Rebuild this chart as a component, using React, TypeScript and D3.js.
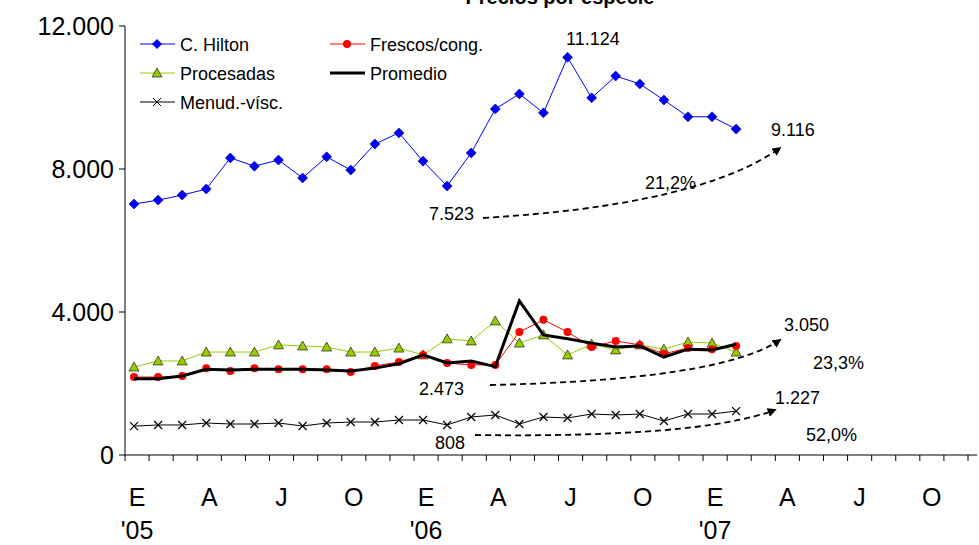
import * as d3 from 'd3';

const monthLabels = ['E', 'A', 'J', 'O', 'E', 'A', 'J', 'O', 'E', 'A', 'J', 'O'];
const yearLabels: [number, string][] = [[0, "'05"], [12, "'06"], [24, "'07"]];
const yTicks = [0, 4000, 8000, 12000];

const hilton = [7020, 7130, 7270, 7440, 8310, 8080, 8250, 7750, 8340, 7970, 8700, 9010, 8220, 7523, 8450, 9680, 10100, 9570, 11124, 9990, 10600, 10380, 9930, 9460, 9460, 9116];
const frescos = [2180, 2180, 2210, 2430, 2350, 2430, 2400, 2400, 2400, 2320, 2490, 2600, 2800, 2570, 2520, 2520, 3440, 3780, 3440, 3020, 3190, 3080, 2830, 2990, 2960, 3050];
const procesadas = [2460, 2630, 2630, 2880, 2880, 2880, 3080, 3050, 3020, 2880, 2880, 2990, 2800, 3250, 3190, 3750, 3130, 3360, 2800, 3100, 2940, 3080, 2960, 3160, 3130, 2880];
const promedio = [2130, 2130, 2210, 2400, 2380, 2400, 2400, 2400, 2380, 2350, 2430, 2550, 2800, 2573, 2630, 2473, 4310, 3360, 3250, 3130, 3020, 3050, 2740, 2960, 2940, 3100];
const menud = [808, 840, 840, 895, 867, 867, 895, 811, 895, 923, 923, 979, 979, 840, 1063, 1119, 867, 1063, 1035, 1147, 1119, 1147, 951, 1147, 1147, 1227];

const font = 'Liberation Sans, Arial, sans-serif';

export default function App() {
  const x = d3.scaleLinear().domain([0, 35]).range([134, 977]);
  const y = d3.scaleLinear().domain([0, 12000]).range([455, 26]);
  const line = d3.line<number>().x((_, i) => x(i)).y((d) => y(d));
  const idx = d3.range(hilton.length);

  const arrow = (x0: number, y0: number, x1: number, y1: number, cx: number, cy: number) => (
    <path d={`M${x0},${y0} Q${cx},${cy} ${x1},${y1}`} fill="none" stroke="#000" strokeWidth={1.8}
      strokeDasharray="6,4" markerEnd="url(#ah)" />
  );
  const T = (tx: number, ty: number, s: string, anchor = 'start') => (
    <text x={tx} y={ty} fontSize={18} textAnchor={anchor as any} fontFamily={font}>{s}</text>
  );

  return (
    <svg width={979} height={545} style={{ position: 'absolute', left: 0, top: 0 }}>
      <defs>
        <marker id="ah" viewBox="0 0 10 10" refX="8" refY="5" markerWidth="5" markerHeight="5" orient="auto">
          <path d="M0,0 L10,5 L0,10 z" fill="#000" />
        </marker>
      </defs>
      <rect width={979} height={545} fill="#fff" />
      <text x={560} y={4} fontSize={20} fontWeight="bold" textAnchor="middle" fontFamily={font}>Precios por especie</text>
      {/* axes */}
      <line x1={125} x2={125} y1={26} y2={455} stroke="#000" />
      <line x1={125} x2={977} y1={455} y2={455} stroke="#000" />
      {yTicks.map((t) => (
        <g key={t}>
          <line x1={119} x2={125} y1={y(t)} y2={y(t)} stroke="#000" />
          <text x={114} y={y(t) + 9} fontSize={25} textAnchor="end" fontFamily={font}>{d3.format(',')(t).replace(',', '.')}</text>
        </g>
      ))}
      {d3.range(36).map((i) => (
        <line key={i} x1={x(i) - 9} x2={x(i) - 9} y1={455} y2={461} stroke="#000" />
      ))}
      {monthLabels.map((m, k) => (
        <text key={k} x={x(k * 3) + 3} y={506} fontSize={25} textAnchor="middle" fontFamily={font}>{m}</text>
      ))}
      {yearLabels.map(([i, s]) => (
        <text key={s} x={x(i) + 3} y={539} fontSize={25} textAnchor="middle" fontFamily={font}>{s}</text>
      ))}
      {/* series */}
      <path d={line(menud)!} fill="none" stroke="#000" strokeWidth={1} />
      {menud.map((d, i) => (
        <path key={i} transform={`translate(${x(i)},${y(d)})`} d="M-4,-4L4,4M-4,4L4,-4" stroke="#000" strokeWidth={1.2} />
      ))}
      <path d={line(procesadas)!} fill="none" stroke="#99cc00" strokeWidth={1} />
      {procesadas.map((d, i) => (
        <path key={i} transform={`translate(${x(i)},${y(d)})`} d="M0,-5L5,4L-5,4z" fill="#99cc00" stroke="#000" strokeWidth={0.6} />
      ))}
      <path d={line(frescos)!} fill="none" stroke="#ff0000" strokeWidth={1} />
      {frescos.map((d, i) => (
        <circle key={i} cx={x(i)} cy={y(d)} r={4} fill="#ff0000" />
      ))}
      <path d={line(promedio)!} fill="none" stroke="#000" strokeWidth={3} />
      <path d={line(hilton)!} fill="none" stroke="#0000ff" strokeWidth={1} />
      {idx.map((i) => (
        <path key={i} transform={`translate(${x(i)},${y(hilton[i])})`} d="M0,-5L5,0L0,5L-5,0z" fill="#0000ff" stroke="#000080" strokeWidth={0.6} />
      ))}
      {/* legend */}
      <g fontFamily={font} fontSize={18}>
        <line x1={140} x2={175} y1={44} y2={44} stroke="#0000ff" />
        <path transform="translate(157,44)" d="M0,-5L5,0L0,5L-5,0z" fill="#0000ff" />
        <text x={180} y={51}>C. Hilton</text>
        <line x1={330} x2={365} y1={44} y2={44} stroke="#ff0000" />
        <circle cx={347} cy={44} r={4} fill="#ff0000" />
        <text x={370} y={51}>Frescos/cong.</text>
        <line x1={140} x2={175} y1={73} y2={73} stroke="#99cc00" />
        <path transform="translate(157,73)" d="M0,-5L5,4L-5,4z" fill="#99cc00" stroke="#000" strokeWidth={0.6} />
        <text x={180} y={80}>Procesadas</text>
        <line x1={330} x2={365} y1={73} y2={73} stroke="#000" strokeWidth={3} />
        <text x={370} y={80}>Promedio</text>
        <line x1={140} x2={175} y1={102} y2={102} stroke="#000" />
        <path transform="translate(157,102)" d="M-4,-4L4,4M-4,4L4,-4" stroke="#000" />
        <text x={180} y={109}>Menud.-vísc.</text>
      </g>
      {/* annotations */}
      {arrow(483, 218, 780, 148, 700, 205)}
      {arrow(490, 385, 780, 340, 720, 380)}
      {arrow(475, 435, 775, 410, 700, 438)}
      {T(474, 220, '7.523', 'end')}
      {T(566, 45, '11.124')}
      {T(771, 136, '9.116')}
      {T(645, 189, '21,2%')}
      {T(784, 331, '3.050')}
      {T(813, 369, '23,3%')}
      {T(464, 395, '2.473', 'end')}
      {T(775, 404, '1.227')}
      {T(806, 441, '52,0%')}
      {T(465, 449, '808', 'end')}
    </svg>
  );
}
